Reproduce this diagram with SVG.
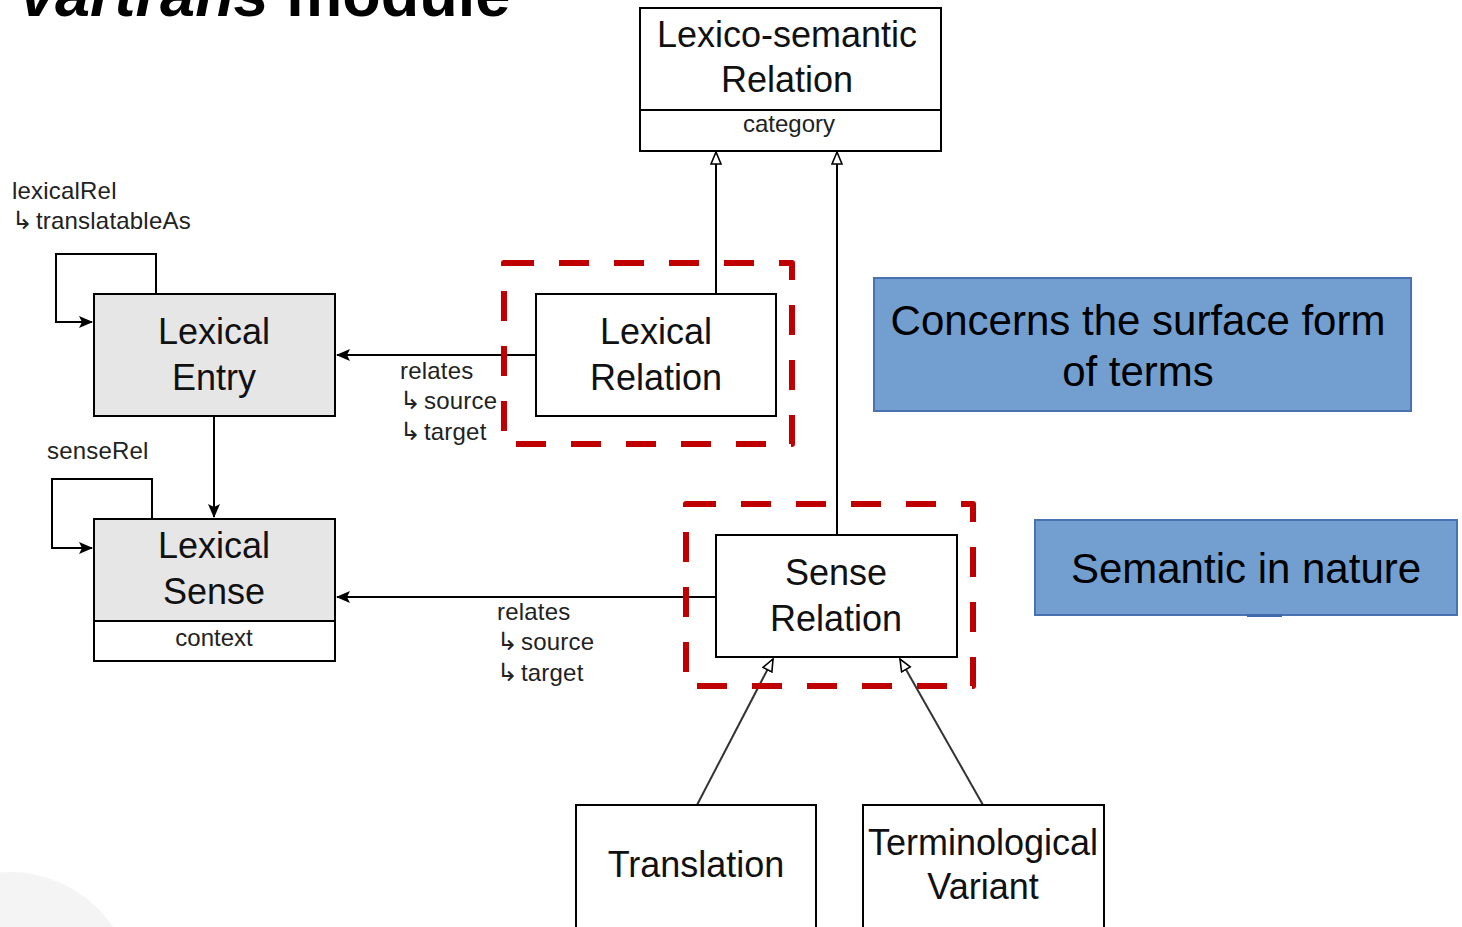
<svg xmlns="http://www.w3.org/2000/svg" width="1462" height="927" viewBox="0 0 1462 927">
<style>
  .box{fill:#fff;stroke:#000;stroke-width:2}
  .grey{fill:#e6e6e6;stroke:#000;stroke-width:2}
  .big{font-family:"Liberation Sans",Arial,sans-serif;font-size:36px;fill:#111;text-anchor:middle}
  .small{font-family:"Liberation Sans",Arial,sans-serif;font-size:24px;fill:#222;letter-spacing:0.2px}
  .arw{font-family:"DejaVu Sans",sans-serif;font-size:25px;letter-spacing:3px}
  .smallc{font-family:"Liberation Sans",Arial,sans-serif;font-size:24px;fill:#222;text-anchor:middle}
  .red{fill:none;stroke:#c00000;stroke-width:6;stroke-dasharray:30 25;stroke-linejoin:round}
  .blue{fill:#729fcf;stroke:#4a72b0;stroke-width:2}
  .bluet{font-family:"Liberation Sans",Arial,sans-serif;font-size:42px;fill:#000;text-anchor:middle}
  .ln{fill:none;stroke:#000;stroke-width:2}
  .ln2{fill:none;stroke:#333;stroke-width:2}
</style>
<defs>
  <marker id="arr" markerUnits="userSpaceOnUse" markerWidth="16" markerHeight="14" refX="13" refY="6" orient="auto">
    <path d="M0,0 L14,6 L0,12 L3,6 z" fill="#000"/>
  </marker>
  <marker id="tri" markerUnits="userSpaceOnUse" markerWidth="16" markerHeight="16" refX="13" refY="6" orient="auto">
    <path d="M1,1 L13,6 L1,11 z" fill="#fff" stroke="#000" stroke-width="1.6"/>
  </marker>
</defs>
<rect width="1462" height="927" fill="#fff"/>
<circle cx="10" cy="996" r="124" fill="#f4f4f4"/>
<text x="20" y="16" font-family="Liberation Sans,Arial,sans-serif" font-size="63" font-weight="bold" fill="#000"><tspan font-style="italic">vartrans</tspan> module</text>

<g id="connectors">
  <line class="ln" x1="716" y1="294" x2="716" y2="152" marker-end="url(#tri)"/>
  <line class="ln" x1="837" y1="535" x2="837" y2="152" marker-end="url(#tri)"/>
  <line class="ln" x1="536" y1="355" x2="337" y2="355" marker-end="url(#arr)"/>
  <line class="ln" x1="716" y1="597" x2="337" y2="597" marker-end="url(#arr)"/>
  <line class="ln" x1="214" y1="416" x2="214" y2="517" marker-end="url(#arr)"/>
  <path class="ln" d="M156,294 V254 H56 V322 H92" marker-end="url(#arr)"/>
  <path class="ln" d="M152,519 V479 H52 V548 H92" marker-end="url(#arr)"/>
  <line class="ln2" x1="697" y1="805" x2="773" y2="659" marker-end="url(#tri)"/>
  <line class="ln2" x1="983" y1="805" x2="900" y2="659" marker-end="url(#tri)"/>
  <text class="small" x="12" y="199">lexicalRel</text>
  <text class="small" x="12" y="229"><tspan class="arw">↳</tspan>translatableAs</text>
  <text class="small" x="47" y="459">senseRel</text>
  <text class="small" x="400" y="379">relates</text>
  <text class="small" x="400" y="409"><tspan class="arw">↳</tspan>source</text>
  <text class="small" x="400" y="440"><tspan class="arw">↳</tspan>target</text>
  <text class="small" x="497" y="620">relates</text>
  <text class="small" x="497" y="650"><tspan class="arw">↳</tspan>source</text>
  <text class="small" x="497" y="681"><tspan class="arw">↳</tspan>target</text>
</g>

<g id="lexico-semantic-relation">
  <rect class="box" x="640" y="8" width="301" height="143"/>
  <line class="ln" x1="640" y1="110" x2="941" y2="110"/>
  <text class="big" x="787" y="47">Lexico-semantic</text>
  <text class="big" x="787" y="92">Relation</text>
  <text class="smallc" x="789" y="132">category</text>
</g>

<g id="lexical-entry">
  <rect class="grey" x="94" y="294" width="241" height="122"/>
  <text class="big" x="214" y="344">Lexical</text>
  <text class="big" x="214" y="390">Entry</text>
</g>

<g id="lexical-sense">
  <rect class="grey" x="94" y="519" width="241" height="102"/>
  <rect class="box" x="94" y="621" width="241" height="40"/>
  <text class="big" x="214" y="558">Lexical</text>
  <text class="big" x="214" y="604">Sense</text>
  <text class="smallc" x="214" y="646">context</text>
</g>

<g id="lexical-relation">
  <rect class="red" x="504" y="263" width="288" height="181"/>
  <rect class="box" x="536" y="294" width="240" height="122"/>
  <text class="big" x="656" y="344">Lexical</text>
  <text class="big" x="656" y="390">Relation</text>
</g>

<g id="sense-relation">
  <rect class="red" x="686" y="504" width="287" height="182"/>
  <rect class="box" x="716" y="535" width="241" height="122"/>
  <text class="big" x="836" y="585">Sense</text>
  <text class="big" x="836" y="631">Relation</text>
</g>

<g id="translation">
  <rect class="box" x="576" y="805" width="240" height="130"/>
  <text class="big" x="696" y="877">Translation</text>
</g>

<g id="terminological-variant">
  <rect class="box" x="863" y="805" width="241" height="130"/>
  <text class="big" x="983" y="855">Terminological</text>
  <text class="big" x="983" y="899">Variant</text>
</g>

<g id="note-surface">
  <rect class="blue" x="874" y="278" width="537" height="133"/>
  <text class="bluet" x="1138" y="335">Concerns the surface form</text>
  <text class="bluet" x="1138" y="386">of terms</text>
</g>

<g id="note-semantic">
  <rect class="blue" x="1035" y="520" width="422" height="95"/>
  <rect x="1247" y="614" width="35" height="3" fill="#3f68ad"/>
  <text class="bluet" x="1246" y="583">Semantic in nature</text>
</g>
</svg>
